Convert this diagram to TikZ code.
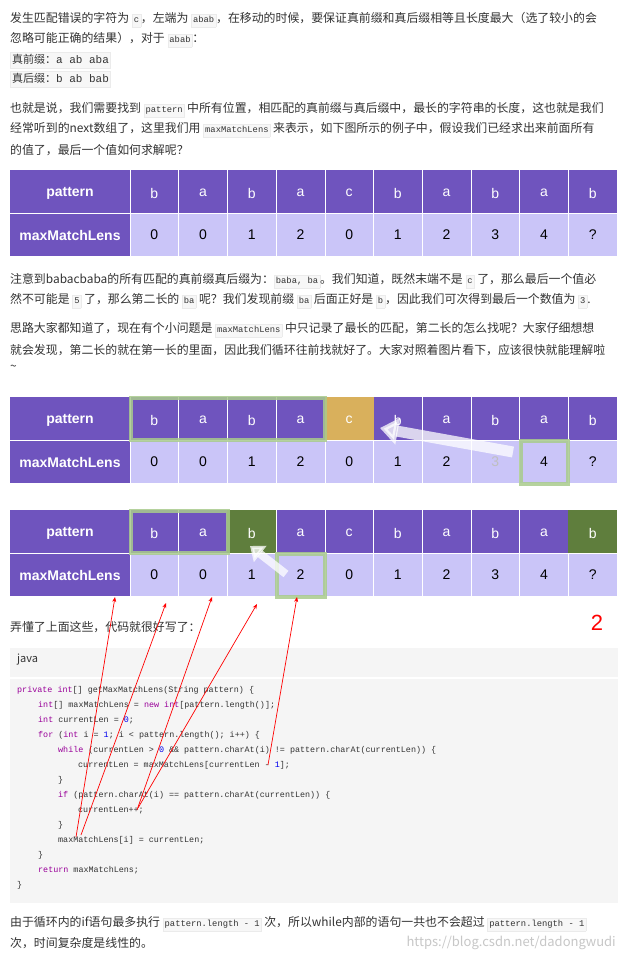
\documentclass[tikz,border=0pt]{standalone}
\usepackage{fontspec}
\setmainfont{Noto Sans CJK SC}
\newfontfamily\tbl{Liberation Sans}
\newfontfamily\mono{Liberation Mono}
\usetikzlibrary{arrows.meta}
\definecolor{txt}{HTML}{333333}
\definecolor{pur}{HTML}{6F54BE}
\definecolor{lav}{HTML}{CAC5F8}
\definecolor{org}{HTML}{D9B05C}
\definecolor{dgr}{HTML}{5F7E3D}
\definecolor{hl}{HTML}{A9CB8C}
\definecolor{kw}{HTML}{990099}
\definecolor{num}{HTML}{0000EE}
\definecolor{cbg}{HTML}{F5F5F5}
\newcommand{\cd}[1]{{\setlength{\fboxsep}{1.5pt}\fcolorbox{black!8}{black!3}{\mono\fontsize{8.8}{10}\selectfont\strut #1}}}
\newcommand{\kk}[1]{\textcolor{kw}{#1}}
\newcommand{\nn}[1]{\textcolor{num}{#1}}
\tikzset{
 line/.style={anchor=west,inner sep=0pt,text=txt,font=\fontsize{11.9}{13}\selectfont},
 code/.style={anchor=west,inner sep=0pt,text=txt,font=\mono\fontsize{8.4}{10}\selectfont},
 hlbox/.style={draw=hl,line width=4pt,opacity=.85},
 warr/.style={draw=white,opacity=.75,line width=11pt,-{Triangle[width=26pt,length=18pt]}},
 rarr/.style={draw=red,line width=0.7pt,-{Stealth[length=5pt,width=4pt]}},
 tf/.style={font=\tbl\fontsize{14}{16}\selectfont}
}
\begin{document}
\begin{tikzpicture}[x=1pt,y=-1pt]
\useasboundingbox (0,0) rectangle (621,962);
\fill[white] (0,0) rectangle (621,962);
% text
\node[line] (t1) at (10,20) {发生匹配错误的字符为 \cd{c}，左端为 \cd{abab}，在移动的时候，要保证真前缀和真后缀相等且长度最大（选了较小的会};
\node[line] (t2) at (10,40) {忽略可能正确的结果），对于 \cd{abab}：};
\node[line] (t3) at (10,60) {\cd{\rmfamily\fontsize{11}{12}\selectfont 真前缀：\mono a ab aba}};
\node[line] (t4) at (10,79) {\cd{\rmfamily\fontsize{11}{12}\selectfont 真后缀：\mono b ab bab}};
\node[line] (t5) at (10,110) {也就是说，我们需要找到 \cd{pattern} 中所有位置，相匹配的真前缀与真后缀中，最长的字符串的长度，这也就是我们};
\node[line] (t6) at (10,130) {经常听到的next数组了，这里我们用 \cd{maxMatchLens} 来表示，如下图所示的例子中，假设我们已经求出来前面所有};
\node[line] (t7) at (10,150) {的值了，最后一个值如何求解呢？};
\node[line] (t8) at (10,281) {注意到babacbaba的所有匹配的真前缀真后缀为：\cd{baba, ba}。我们知道，既然末端不是 \cd{c} 了，那么最后一个值必};
\node[line] (t9) at (10,301) {然不可能是 \cd{5} 了，那么第二长的 \cd{ba} 呢？我们发现前缀 \cd{ba} 后面正好是 \cd{b}，因此我们可次得到最后一个数值为 \cd{3}.};
\node[line] (t10) at (10,330) {思路大家都知道了，现在有个小问题是 \cd{maxMatchLens} 中只记录了最长的匹配，第二长的怎么找呢？大家仔细想想};
\node[line] (t11) at (10,350) {就会发现，第二长的就在第一长的里面，因此我们循环往前找就好了。大家对照着图片看下，应该很快就能理解啦};
\node[line] (t12) at (10,368) {\textasciitilde};
\node[line] (t13) at (10,627) {弄懂了上面这些，代码就很好写了：};
\node[line] (t14) at (10,924) {由于循环内的if语句最多执行 \cd{pattern.length - 1} 次，所以while内部的语句一共也不会超过 \cd{pattern.length - 1}};
\node[line] (t15) at (10,943) {次，时间复杂度是线性的。};
\node[anchor=east,inner sep=0pt,text=black!22,font=\fontsize{13}{14}\selectfont] (wm) at (616,943) {https://blog.csdn.net/dadongwudi};
\node[anchor=center,inner sep=0pt,text=red,font=\tbl\fontsize{22}{24}\selectfont] (two) at (597,623) {2};
% tables
\foreach \ty/\tn in {170/A,397/B,510/C}{
  \fill[pur] (10,\ty) rectangle (130,\ty+86);
  \node[tf,font=\tbl\bfseries\fontsize{14}{16}\selectfont,text=white] (\tn p) at (70,\ty+23) {pattern};
  \node[tf,font=\tbl\bfseries\fontsize{14}{16}\selectfont,text=white] (\tn m) at (70,\ty+65) {maxMatchLens};
  \foreach \i in {0,...,9}{
    \pgfmathsetmacro\xa{130+48.7*\i}
    \fill[pur] (\xa,\ty) rectangle ++(48.7,43);
    \fill[lav] (\xa,\ty+43) rectangle ++(48.7,43);
  }
  \draw[white,line width=0.6pt] (10,\ty+43) -- (617,\ty+43);
  \foreach \i in {0,...,9}{\draw[white,line width=0.6pt] (130+48.7*\i,\ty) -- ++(0,86);}
}
\fill[org] (130+48.7*4,397) rectangle ++(48.7,43);
\fill[dgr] (130+48.7*2,510) rectangle ++(48.7,43);
\fill[dgr] (130+48.7*9,510) rectangle ++(48.7,43);
\foreach \ty/\tn in {170/A,397/B,510/C}{
  \foreach \c [count=\i from 0] in {b,a,b,a,c,b,a,b,a,b}{
    \node[tf,text=white] (\tn h\i) at (130+48.7*\i+24.35,\ty+23) {\c};
  }
  \foreach \c [count=\i from 0] in {0,0,1,2,0,1,2,3,4,?}{
    \node[tf,text=black] (\tn v\i) at (130+48.7*\i+24.35,\ty+65) {\c};
  }
}
\draw[hlbox] (131,398) rectangle (325,440);
\draw[hlbox] (521,441) rectangle (568,484);
\draw[hlbox] (131,511) rectangle (228,553);
\draw[hlbox] (277,554) rectangle (325,597);
\node[tf,text=black!25,fill=lav,inner sep=1pt] (bv7) at (Bv7) {3};
\coordinate (w1s) at (513,452);
\coordinate (w1e) at (380,428);
\draw[warr] (w1s) -- (w1e);
\coordinate (w2s) at (286,574);
\coordinate (w2e) at (250,546);
\draw[draw=white,opacity=.75,line width=8pt,-{Triangle[width=20pt,length=13pt]}] (w2s) -- (w2e);
% code block
\fill[cbg] (10,648) rectangle (618,903);
\draw[white,line width=1.5pt] (10,678) -- (618,678);
\node[anchor=west,inner sep=0pt,text=txt,font=\fontsize{11}{12}\selectfont] (java) at (17,660) {java};
\node[code] (c1) at (17,690) {\kk{private} \kk{int}[] getMaxMatchLens(String pattern) \{};
\node[code] (c2) at (38,705) {\kk{int}[] maxMatchLens = \kk{new} \kk{int}[pattern.length()];};
\node[code] (c3) at (38,720) {\kk{int} currentLen = \nn{0};};
\node[code] (c4) at (38,735) {\kk{for} (\kk{int} i = \nn{1}; i < pattern.length(); i++) \{};
\node[code] (c5) at (58,750) {\kk{while} (currentLen > \nn{0} \&\& pattern.charAt(i) != pattern.charAt(currentLen)) \{};
\node[code] (c6) at (78,765) {currentLen = maxMatchLens[currentLen - \nn{1}];};
\node[code] (c7) at (58,780) {\}};
\node[code] (c8) at (58,795) {\kk{if} (pattern.charAt(i) == pattern.charAt(currentLen)) \{};
\node[code] (c9) at (78,810) {currentLen++;};
\node[code] (c10) at (58,825) {\}};
\node[code] (c11) at (58,840) {maxMatchLens[i] = currentLen;};
\node[code] (c12) at (38,855) {\}};
\node[code] (c13) at (38,870) {\kk{return} maxMatchLens;};
\node[code] (c14) at (17,885) {\}};
% red arrows
\coordinate (r1s) at (76,837); \coordinate (r1e) at (115,597);
\coordinate (r2s) at (81,835); \coordinate (r2e) at (166,603);
\coordinate (r3s) at (137,810); \coordinate (r3e) at (212,597);
\coordinate (r4s) at (138,808); \coordinate (r4e) at (257,604);
\coordinate (r5s) at (268,765); \coordinate (r5e) at (297,597);
\foreach \k in {1,...,5}{\draw[rarr] (r\k s) -- (r\k e);}
\end{tikzpicture}
\end{document}
